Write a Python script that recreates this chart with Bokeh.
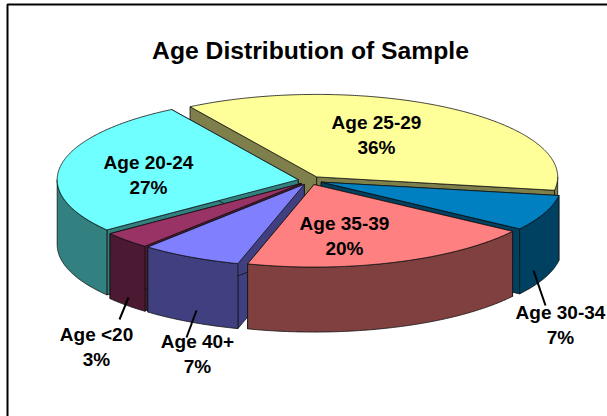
import numpy as np
from bokeh.plotting import figure
from bokeh.models import Range1d
from bokeh.core.properties import value
from bokeh.embed import file_html
from bokeh.resources import INLINE

# ---- data ----
categories = ["Age 25-29", "Age 30-34", "Age 35-39", "Age 40+", "Age <20", "Age 20-24"]
percents = [36, 7, 20, 7, 3, 27]
slice_shares = [36.4, 7.0, 19.85, 6.8, 3.35, 26.6]
title_text = "Age Distribution of Sample"

# ---- style ----
top_colors = ["#FFFF99", "#0080C0", "#FF8080", "#8080FF", "#993366", "#70FFFF"]
side_colors = ["#7F7F4C", "#004060", "#804040", "#404080", "#4C1933", "#338080"]
draw_order = [0, 1, 5, 4, 3, 2]
label_xy = {
    "Age 25-29": (376, 122), "Age 30-34": (560, 312), "Age 35-39": (344, 223),
    "Age 40+": (197, 341), "Age <20": (96, 334), "Age 20-24": (148, 162),
}
leaders = {"Age 40+": ((196, 310), (186, 337)), "Age <20": ((128, 297), (119, 319)),
           "Age 30-34": ((533, 270), (545, 305))}

CX, CY, A, B, DEPTH, EXPLODE, START = 309.5, 180.0, 241.0, 82.5, 65.0, 12.0, 328.3
W, H = 607, 416

p = figure(width=W, height=H, output_backend="svg", toolbar_location=None,
           x_range=Range1d(0, W), y_range=Range1d(H, 0),
           x_axis_location=None, y_axis_location=None, min_border=0,
           outline_line_color=None, background_fill_color="white",
           margin=(0, 0, 0, 0))
p.grid.visible = False


def rim(apex, t0, t1):
    t = np.radians(np.linspace(t0, t1, max(2, int(abs(t1 - t0) * 2))))
    return apex[0] + A * np.sin(t), apex[1] - B * np.cos(t)


angles = np.cumsum([0] + slice_shares) / sum(slice_shares) * 360 + START
for i in draw_order:
    t0, t1 = angles[i], angles[i + 1]
    mid = np.radians((t0 + t1) / 2)
    apex = (CX + EXPLODE * np.sin(mid), CY - EXPLODE * B / A * 1.05 * np.cos(mid))
    polys, cols = [], []
    # radial walls
    for t in (t0, t1):
        ex, ey = rim(apex, t, t)
        ex, ey = ex[0], ey[0]
        polys.append(([apex[0], ex, ex, apex[0]], [apex[1], ey, ey + DEPTH, apex[1] + DEPTH]))
        cols.append(side_colors[i])
    # outer wall (front half only)
    for shift in (0, 360):
        a0, a1 = max(t0, 90 + shift), min(t1, 270 + shift)
        if a1 > a0:
            x, y = rim(apex, a0, a1)
            polys.append((list(x) + list(x[::-1]), list(y) + list((y + DEPTH)[::-1])))
            cols.append(side_colors[i])
    # top face
    x, y = rim(apex, t0, t1)
    polys.append(([apex[0]] + list(x), [apex[1]] + list(y)))
    cols.append(top_colors[i])
    p.patches([q[0] for q in polys], [q[1] for q in polys], fill_color=cols,
              line_color="#111111", line_width=0.8, line_join="round")

# leader lines
p.multi_line([[a[0], b[0]] for a, b in leaders.values()],
             [[a[1], b[1]] for a, b in leaders.values()],
             line_color="black", line_width=2)

# frame
p.line([7, 7, W], [H, 4, 4], line_color="black", line_width=2)

# texts
FONT = value("Liberation Sans")
p.text([310], [50], text=[title_text], text_font=FONT, text_font_size="24.7px",
       text_font_style="bold", text_color="black", text_align="center", text_baseline="middle")
xs, ys, txt = [], [], []
for c, v in zip(categories, percents):
    lx, ly = label_xy[c]
    xs += [lx, lx]
    ys += [ly, ly + 24.5]
    txt += [c, f"{v}%"]
p.text(xs, ys, text=txt, text_font=FONT, text_font_size="19px", text_font_style="bold",
       text_color="black", text_align="center", text_baseline="middle")

open("out.html", "w").write(file_html(p, INLINE))
